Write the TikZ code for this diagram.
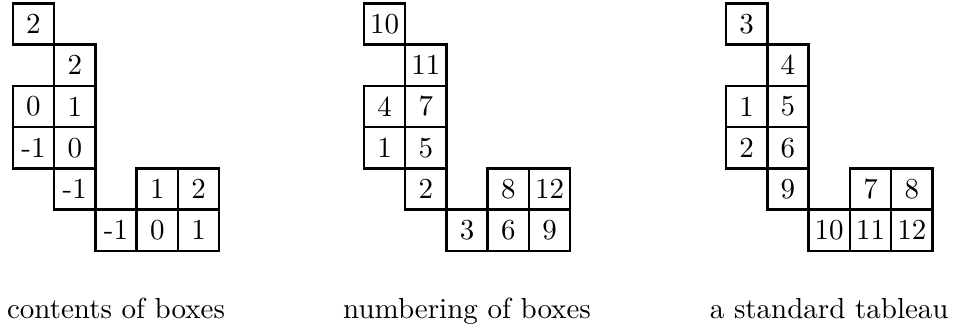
\documentclass[tikz,border=0pt]{standalone}
\usepackage{tikz}
\usetikzlibrary{positioning}

\begin{document}
\begin{tikzpicture}[node distance=0pt,
  cell/.style={draw, line width=0.85pt, minimum size=0.5cm, inner sep=0pt, outer sep=0pt},
  caption/.style={inner sep=3.33pt}]
\useasboundingbox (0,0) rectangle (11.55,-3.99);
% contents of boxes
\node[cell] (c1) at (0.406,-0.29) {2};
\node[cell, below right=of c1] (c2) {2};
\node[cell, below left=of c2] (c3) {0};
\node[cell, right=of c3] (c4) {1};
\node[cell, below=of c3] (c5) {-1};
\node[cell, right=of c5] (c6) {0};
\node[cell, below=of c6] (c7) {-1};
\node[cell, right=0.5cm of c7] (c8) {1};
\node[cell, right=of c8] (c9) {2};
\node[cell, below left=of c8] (c10) {-1};
\node[cell, right=of c10] (c11) {0};
\node[cell, right=of c11] (c12) {1};
\node[caption, below=0.45cm of c10] (clab) {contents of boxes};
% numbering of boxes
\node[cell] (n1) at (4.66,-0.29) {10};
\node[cell, below right=of n1] (n2) {11};
\node[cell, below left=of n2] (n3) {4};
\node[cell, right=of n3] (n4) {7};
\node[cell, below=of n3] (n5) {1};
\node[cell, right=of n5] (n6) {5};
\node[cell, below=of n6] (n7) {2};
\node[cell, right=0.5cm of n7] (n8) {8};
\node[cell, right=of n8] (n9) {12};
\node[cell, below left=of n8] (n10) {3};
\node[cell, right=of n10] (n11) {6};
\node[cell, right=of n11] (n12) {9};
\node[caption, below=0.45cm of n10] (nlab) {numbering of boxes};
% a standard tableau
\node[cell] (s1) at (9.05,-0.29) {3};
\node[cell, below right=of s1] (s2) {4};
\node[cell, below left=of s2] (s3) {1};
\node[cell, right=of s3] (s4) {5};
\node[cell, below=of s3] (s5) {2};
\node[cell, right=of s5] (s6) {6};
\node[cell, below=of s6] (s7) {9};
\node[cell, right=0.5cm of s7] (s8) {7};
\node[cell, right=of s8] (s9) {8};
\node[cell, below left=of s8] (s10) {10};
\node[cell, right=of s10] (s11) {11};
\node[cell, right=of s11] (s12) {12};
\node[caption, below=0.45cm of s10] (slab) {a standard tableau};
\end{tikzpicture}
\end{document}
